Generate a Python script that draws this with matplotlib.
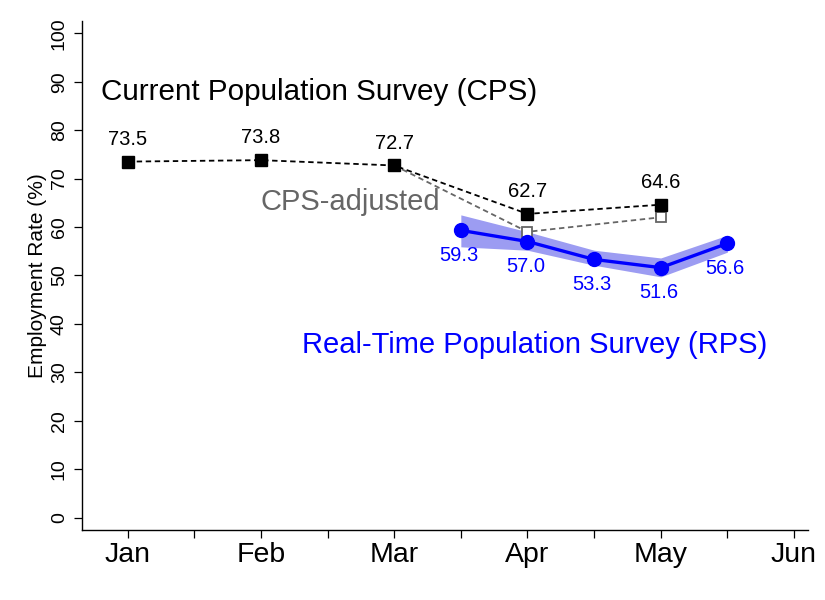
import matplotlib
matplotlib.use("Agg")
import matplotlib.pyplot as plt
import numpy as np

plt.rcParams['font.family'] = ['Liberation Sans', 'DejaVu Sans']

month_labels = ["Jan", "Feb", "Mar", "Apr", "May", "Jun"]
month_pos = [1, 2, 3, 4, 5, 6]

cps_x = [1, 2, 3, 4, 5]
cps_y = [73.5, 73.8, 72.7, 62.7, 64.6]

adj_x = [3, 4, 5]
adj_y = [72.7, 59.0, 62.0]

rps_x = [3.5, 4.0, 4.5, 5.0, 5.5]
rps_y = [59.3, 57.0, 53.3, 51.6, 56.6]
rps_lo = [55.9, 55.2, 52.1, 49.7, 54.8]
rps_hi = [62.5, 59.0, 55.2, 53.6, 58.3]

fig = plt.figure(figsize=(8.25, 6), dpi=100)
# axes box: x 81.7..808 px, y 20.7..530 px
ax = fig.add_axes([81.7 / 825, 1 - 530 / 600, (808 - 81.7) / 825, (530 - 20.7) / 600])

blue = "#0000ff"
ax.fill_between(rps_x, rps_lo, rps_hi, color="#9c9cf2", linewidth=0, zorder=1)
ax.plot(rps_x, rps_y, color=blue, lw=2.4, marker="o", ms=10, zorder=4)

ax.plot(adj_x, adj_y, color="#666666", lw=1.3, ls=(0, (3, 2)), marker="s", ms=7,
        markerfacecolor="white", markeredgecolor="#666666", markeredgewidth=1.3, zorder=2)
ax.plot(cps_x, cps_y, color="black", lw=1.3, ls=(0, (3, 2)), marker="s", ms=8, zorder=3)

for x, y in zip(cps_x, cps_y):
    ax.annotate(f"{y:.1f}", (x, y), xytext=(0, 16), textcoords="offset points",
                ha="center", va="center", fontsize=14.5, color="black")
for x, y in zip(rps_x, rps_y):
    ax.annotate(f"{y:.1f}", (x, y), xytext=(-1.5, -18), textcoords="offset points",
                ha="center", va="center", fontsize=14.5, color=blue)

ax.text(0.80, 87.9, "Current Population Survey (CPS)", fontsize=21.3, color="black",
        ha="left", va="center")
ax.text(2.0, 65.2, "CPS-adjusted", fontsize=21, color="#666666", ha="left", va="center")
ax.text(2.31, 35.6, "Real-Time Population Survey (RPS)", fontsize=21, color=blue,
        ha="left", va="center")

ax.set_xlim(0.655, 6.105)
ax.set_ylim(-2.58, 102.6)
ax.set_xticks(month_pos)
ax.set_xticklabels(month_labels, fontsize=20.5)
ax.set_xticks([1.5, 2.5, 3.5, 4.5, 5.5], minor=True)
ax.set_yticks(np.arange(0, 101, 10))
ax.set_yticklabels([str(v) for v in range(0, 101, 10)], fontsize=14, rotation=90, va="center")
ax.tick_params(axis="x", which="both", length=6, width=0.9, pad=3)
ax.tick_params(axis="y", length=6, width=0.9, pad=4)
ax.set_ylabel("Employment Rate (%)", fontsize=15, labelpad=3)

for s in ["top", "right"]:
    ax.spines[s].set_visible(False)
for s in ["left", "bottom"]:
    ax.spines[s].set_linewidth(1.0)

fig.savefig("out.png", dpi=100)
